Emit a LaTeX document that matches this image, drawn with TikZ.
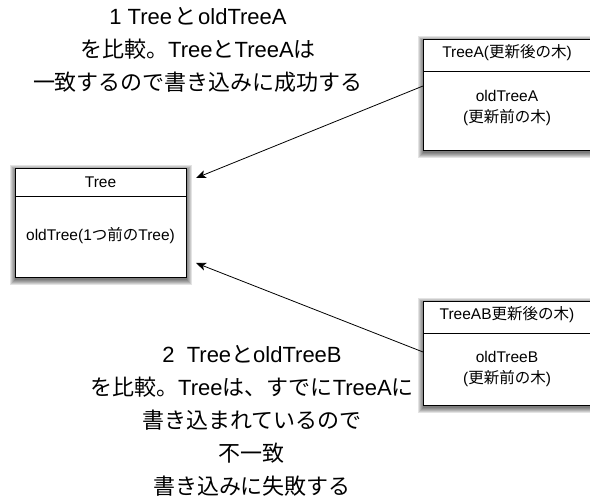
\documentclass[tikz,border=0pt]{standalone}
\usepackage{fontspec}
\setmainfont{Liberation Sans}
\newfontfamily\jpfont{Noto Sans CJK JP}
\newcommand{\jj}[1]{{\jpfont #1}}
\usetikzlibrary{arrows.meta}
\newcommand{\blurshadow}[4]{%
  \foreach \k in {1,...,6}{%
    \fill[black, fill opacity=0.11] (#1+0.5-\k*0.9, #2+2.5-\k*0.9) rectangle (#3+0.5+\k*0.9, #4+2.5+\k*0.9);
  }}
\begin{document}
\begin{tikzpicture}[x=1pt,y=-1pt,
  box/.style={draw=black, line width=0.9pt, fill=white, rectangle, anchor=north west, inner sep=0pt},
  divider/.style={line width=0.8pt},
  boxtext/.style={font=\fontsize{15.5}{21}\selectfont, inner sep=0pt, align=center},
  bigtext/.style={font=\fontsize{22}{33}\selectfont, inner sep=0pt, align=center},
  conn/.style={line width=0.8pt, -{Stealth[length=10pt,width=8pt,inset=2.5pt]}}]
\useasboundingbox (0,0) rectangle (590,502);
\fill[white] (0,0) rectangle (590,502);
% shadows
\blurshadow{15}{168}{186}{277}
\blurshadow{423}{39}{595}{150}
\blurshadow{423}{301}{595}{405}
% Tree box
\node[box, minimum width=171pt, minimum height=109pt] (tree) at (15,168) {};
\draw[divider] (15,196) -- (186,196);
\node[boxtext] (treeh) at (100.5,182) {Tree};
\node[boxtext] (treeb) at (100.5,236) {oldTree(1\jj{つ前の}Tree)};
% TreeA box
\node[box, minimum width=172pt, minimum height=111pt] (treeA) at (423,39) {};
\draw[divider] (423,71) -- (595,71);
\node[boxtext] (treeAh) at (507,53) {TreeA(\jj{更新後の木})};
\node[boxtext] (treeAb) at (507,108) {oldTreeA\\(\jj{更新前の木})};
% TreeAB box
\node[box, minimum width=172pt, minimum height=104pt] (treeB) at (423,301) {};
\draw[divider] (423,333) -- (595,333);
\node[boxtext] (treeBh) at (507,315) {TreeAB\jj{更新後の木})};
\node[boxtext] (treeBb) at (507,369) {oldTreeB\\(\jj{更新前の木})};
% connectors
\coordinate (endA) at (196,178);
\coordinate (endB) at (196,263);
\draw[conn] (treeA.west |- 0,86) -- (endA);
\draw[conn] (treeB.west |- 0,352) -- (endB);
% labels
\node[bigtext] (lab1) at (198,50) {1 Tree\hspace{2pt}\jj{と}\hspace{2pt}oldTreeA\\\jj{を比較。}Tree\jj{と}TreeA\jj{は}\\\jj{一致するので書き込みに成功する}};
\node[bigtext] (lab2) at (252,421) {2\ \ Tree\jj{と}oldTreeB\\\jj{を比較。}Tree\jj{は、すでに}TreeA\jj{に}\\\jj{書き込まれているので}\\\jj{不一致}\\\jj{書き込みに失敗する}};
\end{tikzpicture}
\end{document}
